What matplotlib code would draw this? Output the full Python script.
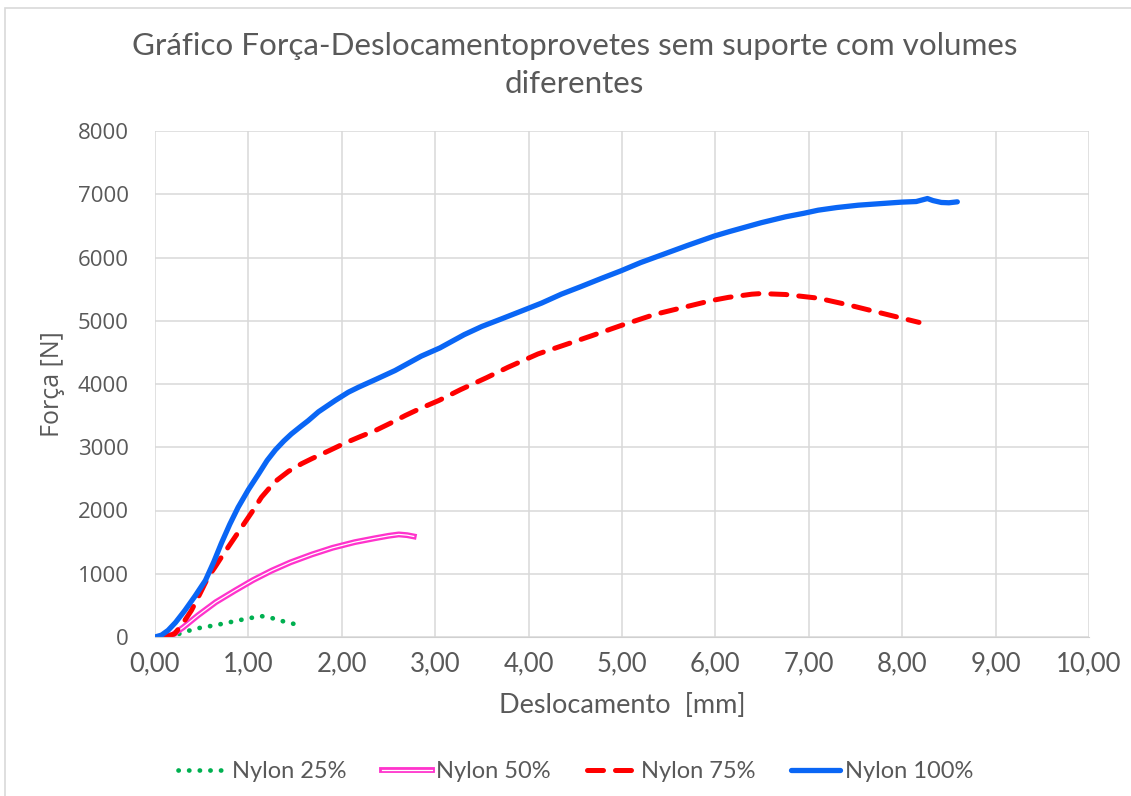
import matplotlib
matplotlib.use("Agg")
import matplotlib.pyplot as plt
import matplotlib.patheffects as pe
from matplotlib.patches import Rectangle

# Força-deslocamento, provetes sem suporte
x_25 = [0.15, 0.21, 0.32, 0.43, 0.54, 0.64, 0.79, 0.93, 1.04, 1.14, 1.25, 1.36, 1.46, 1.58]
y_25 = [0, 26, 80, 130, 160, 184, 230, 274, 305, 330, 300, 253, 215, 184]

x_50 = [0.05, 0.18, 0.30, 0.46, 0.65, 0.86, 1.05, 1.25, 1.45, 1.68, 1.90, 2.14, 2.35, 2.50, 2.61, 2.70, 2.77]
y_50 = [0, 26, 150, 342, 550, 737, 900, 1050, 1180, 1305, 1410, 1500, 1560, 1600, 1622, 1610, 1590]

x_75 = [0.10, 0.21, 0.30, 0.39, 0.48, 0.57, 0.64, 0.71, 0.82, 0.93, 1.04, 1.14, 1.28, 1.43,
        1.57, 1.68, 1.87, 2.04, 2.20, 2.36, 2.52, 2.68, 2.85, 3.04, 3.27, 3.55, 3.78, 4.10,
        4.42, 4.67, 4.99, 5.35, 5.71, 5.96, 6.14, 6.39, 6.49, 6.75, 7.10, 7.42, 7.78, 8.18]
y_75 = [0, 50, 220, 420, 680, 950, 1100, 1260, 1500, 1740, 1980, 2210, 2450, 2620,
        2740, 2820, 2950, 3070, 3170, 3265, 3380, 3502, 3620, 3740, 3910, 4100, 4265, 4475,
        4635, 4760, 4925, 5100, 5230, 5320, 5370, 5420, 5430, 5415, 5357, 5252, 5120, 4974]

x_100 = [0, 0.07, 0.14, 0.22, 0.32, 0.43, 0.54, 0.63, 0.71, 0.80, 0.89, 1.00, 1.11, 1.20,
         1.29, 1.38, 1.46, 1.57, 1.64, 1.75, 1.86, 1.93, 2.07, 2.18, 2.36, 2.57, 2.85, 3.05,
         3.31, 3.50, 3.71, 3.90, 4.14, 4.35, 4.56, 4.78, 4.99, 5.20, 5.46, 5.70, 5.99, 6.15,
         6.32, 6.49, 6.75, 6.95, 7.10, 7.30, 7.53, 7.75, 7.99, 8.15, 8.27, 8.33, 8.42, 8.50, 8.59]
y_100 = [0, 30, 105, 230, 420, 650, 895, 1190, 1480, 1780, 2050, 2330, 2580, 2790,
         2960, 3100, 3210, 3340, 3420, 3560, 3670, 3740, 3870, 3950, 4070, 4213, 4440, 4570,
         4780, 4910, 5030, 5140, 5280, 5420, 5540, 5670, 5790, 5920, 6060, 6190, 6340, 6410,
         6480, 6550, 6643, 6700, 6748, 6790, 6827, 6850, 6875, 6885, 6932, 6900, 6870, 6865, 6880]

x_ticks = [0, 1, 2, 3, 4, 5, 6, 7, 8, 9, 10]
x_labels = ["0,00", "1,00", "2,00", "3,00", "4,00", "5,00", "6,00", "7,00", "8,00", "9,00", "10,00"]
y_ticks = [0, 1000, 2000, 3000, 4000, 5000, 6000, 7000, 8000]

txt = "#595959"
narrow = ["Lato", "DejaVu Sans"]
wide = ["Open Sans", "DejaVu Sans"]

fig = plt.figure(figsize=(11.31, 7.96), dpi=100)
ax = fig.add_axes([155 / 1131, 1 - 637 / 796, 934 / 1131, 506 / 796])

# moldura do gráfico
fig.patches.append(Rectangle((5 / 1131, -0.05), 1.2, 1 - 8 / 796 + 0.05, transform=fig.transFigure,
                             fill=False, edgecolor="#d9d9d9", linewidth=1.2))

ax.plot(x_25, y_25, color="#00b050", linewidth=3.4, linestyle=(0, (0.05, 2.2)),
        dash_capstyle="round", label="Nylon 25%")
ax.plot(x_50, y_50, color="white", linewidth=0.9, label="Nylon 50%",
        path_effects=[pe.Stroke(linewidth=4.2, foreground="#ff33cc"), pe.Normal()])
ax.plot(x_75, y_75, color="#ff0000", linewidth=3.6, linestyle=(0, (3.2, 2.4)),
        dash_capstyle="round", label="Nylon 75%")
ax.plot(x_100, y_100, color="#0a66f5", linewidth=3.8, solid_capstyle="round",
        solid_joinstyle="round", label="Nylon 100%")

ax.set_xlim(0, 10)
ax.set_ylim(0, 8000)
ax.set_xticks(x_ticks)
ax.set_xticklabels(x_labels, family=narrow, fontsize=18.5, color=txt)
ax.set_yticks(y_ticks)
ax.set_yticklabels([str(v) for v in y_ticks], family=wide, fontsize=16, color=txt)
ax.tick_params(axis="both", length=0)
ax.tick_params(axis="x", pad=10)
ax.tick_params(axis="y", pad=19)
ax.grid(True, color="#d9d9d9", linewidth=1.1)
ax.set_axisbelow(True)
for s in ["top", "right", "left"]:
    ax.spines[s].set_visible(False)
ax.spines["bottom"].set_color("#d0d0d0")

ax.set_xlabel("Deslocamento  [mm]", family=narrow, fontsize=19.5, color=txt, labelpad=12)
ax.set_ylabel("Força [N]", family=wide, fontsize=18, color=txt, labelpad=9)

fig.text(0.508, 1 - 65 / 796, "Gráfico Força-Deslocamentoprovetes sem suporte com volumes\ndiferentes",
         ha="center", va="center", family=narrow, fontsize=22.6, color=txt, linespacing=1.4)

fig.legend(loc="center", bbox_to_anchor=(0.509, 1 - 772 / 796), ncol=4, frameon=False,
           prop={"family": narrow, "size": 17}, labelcolor=txt, handlelength=2.1,
           handletextpad=0.2, columnspacing=1.5)

fig.savefig("out.png", dpi=100, facecolor="white")
